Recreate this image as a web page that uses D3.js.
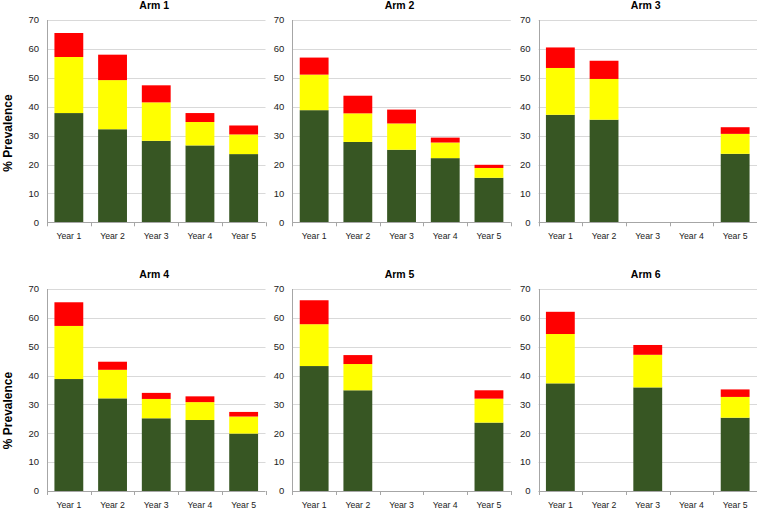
<!DOCTYPE html>
<html>
<head>
<meta charset="utf-8">
<script src="https://cdn.jsdelivr.net/npm/d3@7"></script>
<style>
  html, body { margin: 0; padding: 0; background: #fff; }
  svg { display: block; }
  text { font-family: "Liberation Sans", Arial, sans-serif; }
</style>
</head>
<body>
<script>
// ---------- DATA ----------
const categories = ["Year 1", "Year 2", "Year 3", "Year 4", "Year 5"];
const arms = ["Arm 1", "Arm 2", "Arm 3", "Arm 4", "Arm 5", "Arm 6"];
const seriesKeys = ["green", "yellow", "red"];
// segment heights (% prevalence) per arm, per year; null = no bar
const greenValues = [
  [37.8, 32.2, 28.2, 26.6, 23.6],
  [38.8, 27.8, 25.1, 22.2, 15.4],
  [37.2, 35.5, null, null, 23.7],
  [38.8, 32.1, 25.2, 24.6, 19.9],
  [43.3, 34.9, null, null, 23.7],
  [37.3, null, 35.9, null, 25.4]
];
const yellowValues = [
  [19.4, 17.0, 13.3, 8.1, 6.8],
  [12.3, 9.9, 9.1, 5.4, 3.4],
  [16.2, 14.1, null, null, 6.9],
  [18.4, 9.9, 6.7, 6.2, 5.9],
  [14.5, 9.1, null, null, 8.3],
  [17.1, null, 11.3, null, 7.2]
];
const redValues = [
  [8.3, 8.8, 5.9, 3.1, 3.1],
  [5.9, 6.1, 4.8, 1.7, 1.1],
  [7.1, 6.3, null, null, 2.3],
  [8.2, 2.8, 2.1, 2.0, 1.6],
  [8.3, 3.1, null, null, 2.9],
  [7.7, null, 3.4, null, 2.6]
];
const yTicks = [0, 10, 20, 30, 40, 50, 60, 70];
const yMax = 70;
const yAxisTitle = "% Prevalence";

// ---------- STYLE / LAYOUT ----------
const W = 757, H = 508;
const colors = { green: "#375623", yellow: "#FFFF00", red: "#FF0000" };
const plotW = 218.5;
const colLefts = [47, 292.3, 538.5];
const rows = [
  { top: 20, bottom: 222.3, titleY: 8.5, labelY: 133 },
  { top: 289, bottom: 491, titleY: 277.5, labelY: 410.5 }
];

const svg = d3.select("body").append("svg")
  .attr("width", W).attr("height", H);

arms.forEach((arm, ai) => {
  const r = rows[Math.floor(ai / 3)];
  const left = colLefts[ai % 3];
  const g = svg.append("g");

  const x = d3.scaleBand().domain(categories)
    .range([left, left + plotW]).paddingInner(0.34).paddingOuter(0.17);
  const y = d3.scaleLinear().domain([0, yMax]).range([r.bottom, r.top]);

  // gridlines
  g.append("g").selectAll("line").data(yTicks.filter(t => t > 0)).join("line")
    .attr("x1", left).attr("x2", left + plotW)
    .attr("y1", d => Math.round(y(d)) + 0.5).attr("y2", d => Math.round(y(d)) + 0.5)
    .attr("stroke", "#d9d9d9").attr("stroke-width", 1);

  // y tick labels
  g.append("g").selectAll("text").data(yTicks).join("text")
    .attr("x", left - 8).attr("y", d => y(d))
    .attr("dy", "0.35em").attr("text-anchor", "end")
    .attr("font-size", "9.5px").attr("fill", "#222")
    .text(d => d);

  // data rows
  const rowsData = categories.map((c, i) => ({
    cat: c,
    green: greenValues[ai][i],
    yellow: yellowValues[ai][i],
    red: redValues[ai][i]
  }));
  const stack = d3.stack().keys(seriesKeys).value((d, k) => d[k] == null ? 0 : d[k]);
  const layers = stack(rowsData);

  g.append("g").selectAll("g").data(layers).join("g")
    .attr("fill", d => colors[d.key])
    .selectAll("rect")
    .data(d => d.filter(p => p.data[d.key] != null))
    .join("rect")
    .attr("x", p => x(p.data.cat))
    .attr("width", x.bandwidth())
    .attr("y", p => y(p[1]))
    .attr("height", p => y(p[0]) - y(p[1]));

  // axes lines
  const axisColor = "#a6a6a6";
  g.append("line")
    .attr("x1", Math.round(left) + 0.5).attr("x2", Math.round(left) + 0.5)
    .attr("y1", r.top).attr("y2", r.bottom)
    .attr("stroke", axisColor);
  g.append("line")
    .attr("x1", left).attr("x2", left + plotW)
    .attr("y1", Math.round(r.bottom) + 0.5).attr("y2", Math.round(r.bottom) + 0.5)
    .attr("stroke", axisColor);
  // x tick marks at band boundaries
  const step = x.step();
  g.append("g").selectAll("line").data(d3.range(categories.length + 1)).join("line")
    .attr("x1", i => Math.round(left + i * step) + 0.5)
    .attr("x2", i => Math.round(left + i * step) + 0.5)
    .attr("y1", r.bottom).attr("y2", r.bottom + 4)
    .attr("stroke", axisColor);

  // x labels via d3 axis
  const xAxis = d3.axisBottom(x).tickSize(0).tickPadding(0);
  const ax = g.append("g").attr("transform", `translate(0,${r.bottom})`).call(xAxis);
  ax.select(".domain").remove();
  ax.selectAll("text")
    .attr("font-size", "8.7px").attr("fill", "#222")
    .attr("font-family", "'Liberation Sans', Arial, sans-serif")
    .attr("dy", null).attr("y", 16.5);

  // title
  g.append("text")
    .attr("x", left + plotW / 2 - 2).attr("y", r.titleY)
    .attr("text-anchor", "middle")
    .attr("font-size", "10.5px").attr("font-weight", "bold").attr("fill", "#000")
    .text(arm);

  // y axis title on first column
  if (ai % 3 === 0) {
    g.append("text")
      .attr("transform", `translate(12,${r.labelY}) rotate(-90)`)
      .attr("text-anchor", "middle")
      .attr("font-size", "12px").attr("font-weight", "bold").attr("fill", "#000")
      .text(yAxisTitle);
  }
});
</script>
</body>
</html>
